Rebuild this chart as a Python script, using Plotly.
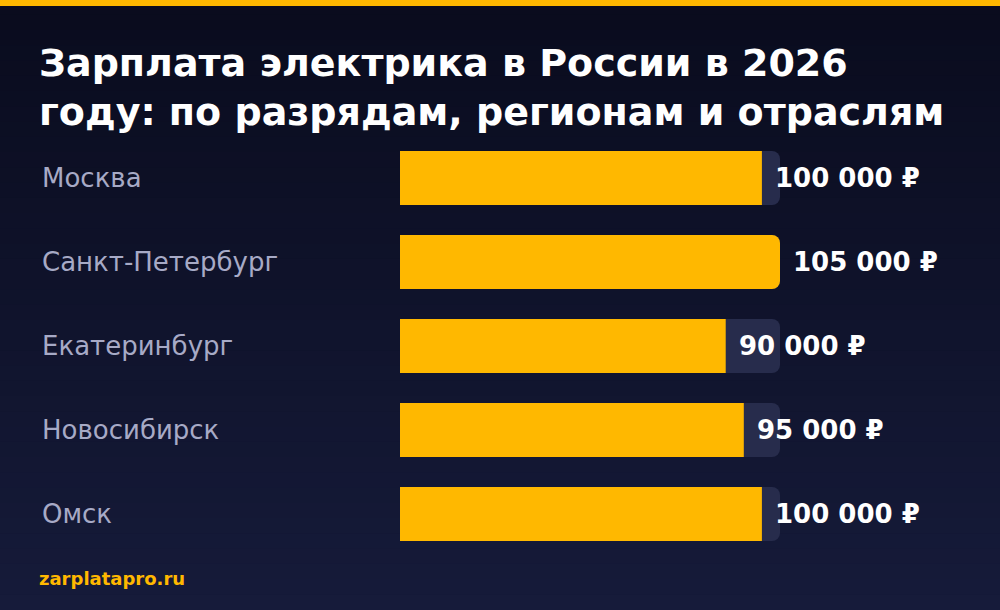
import plotly.graph_objects as go

cities = ["Москва", "Санкт-Петербург", "Екатеринбург", "Новосибирск", "Омск"]
salaries = [100000, 105000, 90000, 95000, 100000]
value_labels = ["100 000 ₽", "105 000 ₽", "90 000 ₽", "95 000 ₽", "100 000 ₽"]
track_max = 105000

W, H = 1000, 610
pos = list(range(len(cities)))

fig = go.Figure()
# background track
fig.add_trace(go.Bar(x=[track_max] * len(cities), y=pos, orientation="h",
                     marker=dict(color="#272c4c", cornerradius=8, line_width=0),
                     width=0.643, hoverinfo="skip"))
# salary bars
fig.add_trace(go.Bar(x=salaries, y=pos, orientation="h",
                     marker=dict(color="#ffb800", cornerradius=8, line_width=0),
                     width=0.643))

# gradient background from strips
shapes = []
n = 40
c0, c1 = (10, 12, 30), (22, 27, 58)
for i in range(n):
    t = i / (n - 1)
    col = "rgb(%d,%d,%d)" % tuple(int(a + (b - a) * t) for a, b in zip(c0, c1))
    shapes.append(dict(type="rect", xref="paper", yref="paper", x0=0, x1=1,
                       y0=1 - (i + 1) / n, y1=1 - i / n + 0.001,
                       fillcolor=col, line_width=0, layer="below"))
shapes.append(dict(type="rect", xref="paper", yref="paper", x0=0, x1=1,
                   y0=1 - 6 / H, y1=1, fillcolor="#ffb800", line_width=0))

ann = []
for p, c, v, lab in zip(pos, cities, salaries, value_labels):
    ann.append(dict(x=40 / W, xref="paper", y=p, yref="y", text=c, showarrow=False,
                    xanchor="left", font=dict(size=26, color="#a7aac6")))
    ann.append(dict(x=v, xref="x", y=p, yref="y", text="<b>%s</b>" % lab,
                    showarrow=False, xanchor="left", xshift=11,
                    font=dict(size=26, color="white")))
ann.append(dict(x=37 / W, xref="paper", y=1 - 87 / H, yref="paper", xanchor="left",
                yanchor="middle", align="left", showarrow=False,
                text="<b>Зарплата электрика в России в 2026<br>году: по разрядам, регионам и отраслям</b>",
                font=dict(size=38, color="white")))
ann.append(dict(x=37 / W, xref="paper", y=1 - 578 / H, yref="paper", xanchor="left",
                yanchor="middle", showarrow=False, text="<b>zarplatapro.ru</b>",
                font=dict(size=18, color="#ffb800")))

fig.update_layout(
    width=W, height=H, margin=dict(l=0, r=0, t=0, b=0),
    paper_bgcolor="#0f1228", plot_bgcolor="rgba(0,0,0,0)",
    barmode="overlay", showlegend=False, shapes=shapes, annotations=ann,
    font=dict(family="DejaVu Sans"),
    xaxis=dict(domain=[0.4, 0.78], range=[0, track_max], visible=False, fixedrange=True),
    yaxis=dict(range=[4 + 96 / 84, -178 / 84], visible=False, fixedrange=True),
)
fig.write_html("out.html", config={"displayModeBar": False},
               post_script="document.body.style.margin='0';")
